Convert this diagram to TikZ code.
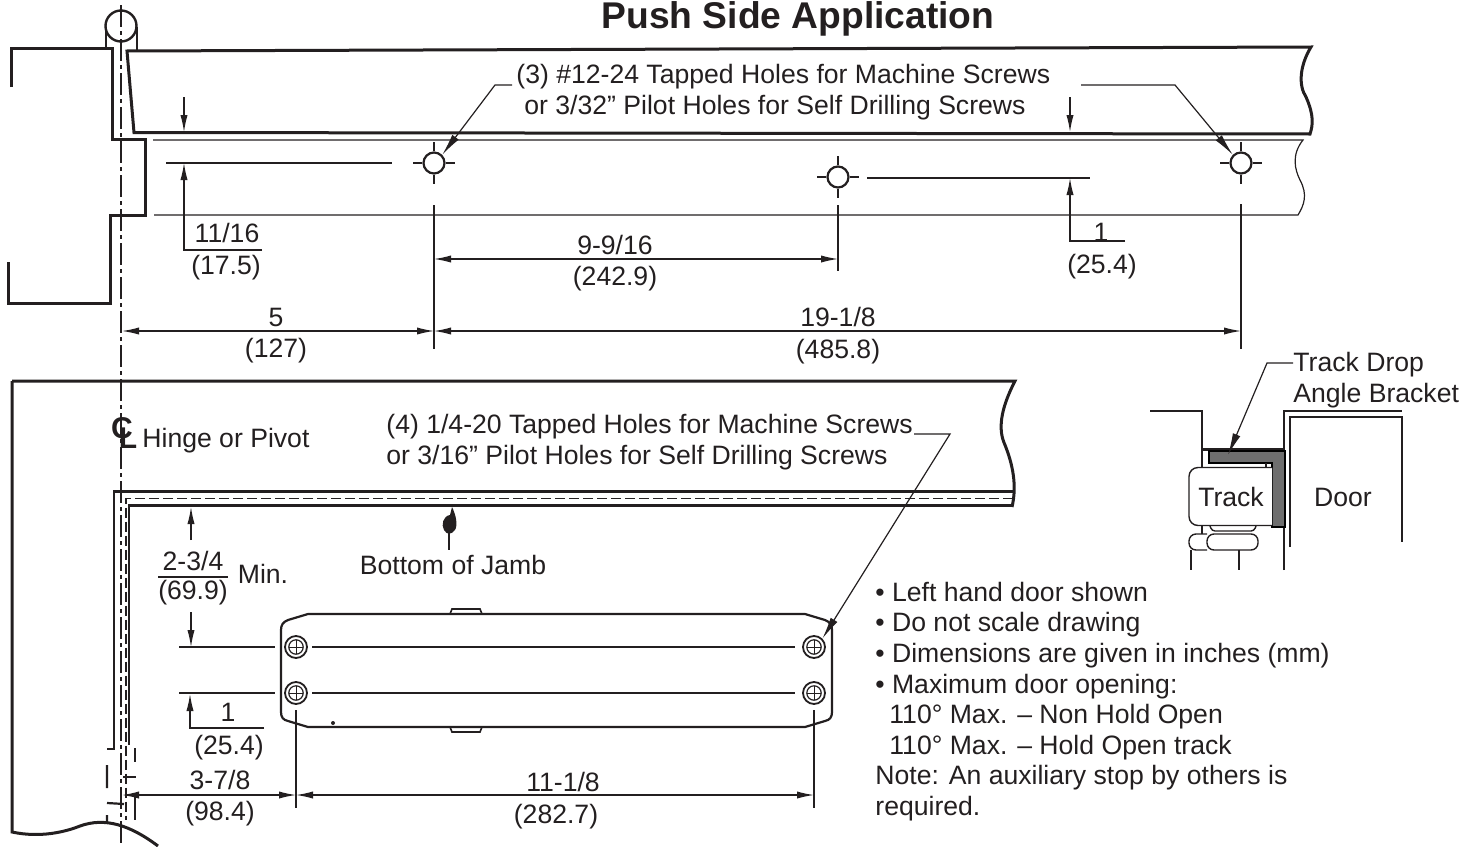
\documentclass[tikz,border=0pt]{standalone}
\usepackage{fontspec}
\setmainfont{Liberation Sans}
\usepackage{xcolor}
\usetikzlibrary{arrows.meta}
\definecolor{inkgray}{HTML}{231F20}
\definecolor{bracketgray}{HTML}{6E6E6E}
\tikzset{
	heavy/.style={line width=1.5pt, inkgray},
	medium/.style={line width=1.1pt, inkgray},
	thin line/.style={line width=0.6pt, inkgray},
	centerline/.style={thin line, dash pattern=on 11pt off 2pt on 2pt off 2pt},
	hidden/.style={thin line, dash pattern=on 5pt off 2pt},
	hiddenheavy/.style={medium},
	dimtip/.style={{Latex[length=8.5pt,width=3.6pt]}-{Latex[length=8.5pt,width=3.6pt]}, thin line},
	dimend/.style={-{Latex[length=8.5pt,width=3.6pt]}, thin line},
	leader/.style={-{Latex[length=11pt,width=4pt]}, thin line},
	lbl/.style={inner sep=0pt, text=inkgray, font=\fontsize{13.3}{15.3}\selectfont},
	lblleft/.style={lbl, anchor=west, align=left},
	holemark/.style={circle, draw=inkgray, line width=1.1pt, fill=white, minimum size=10.5pt, inner sep=0pt},
	screwmark/.style={circle, draw=inkgray, line width=0.9pt, fill=white, minimum size=11pt, inner sep=0pt},
}
\newcommand{\screwhead}[3]{
	\node[screwmark] (#1) at (#2,#3) {};
	\draw[line width=0.6pt, inkgray] (#2,#3) circle (3.6pt);
	\draw[line width=0.5pt, inkgray] (#2-7,#3) -- (#2+7,#3) (#2,#3-7) -- (#2,#3+7);
}
\newcommand{\holecross}[1]{
	\draw[thin line] (#1.north) -- ++(0,-9) (#1.south) -- ++(0,9) (#1.east) -- ++(9,0) (#1.west) -- ++(-9,0);
}
\begin{document}
\begin{tikzpicture}[x=0.5pt,y=-0.5pt]
	\useasboundingbox (0,0) rectangle (1461,846);
	\node[lbl, anchor=base, font=\fontsize{18.6}{22}\selectfont\bfseries] (title) at (798,28) {Push Side Application};

	% hinge and frame
	\draw[centerline] (121,5) -- (121,846);
	\draw[medium] (106,27) -- (106,48) (137,27) -- (137,50);
	\node[circle, draw=inkgray, line width=1.2pt, minimum size=15.5pt, inner sep=0pt] (hingepin) at (121,26) {};
	\draw[centerline] (121,5) -- (121,60);
	\draw[heavy] (11,87) -- (11,48) -- (112,48) -- (112,139) -- (145,139) -- (145,215) -- (110,215) -- (110,303) -- (8,303) -- (8,262);

	% door edge, top view
	\draw[heavy] (127,51) -- (1311,47) .. controls (1300,65) and (1298,85) .. (1306,97) .. controls (1314,115) and (1313,125) .. (1310,134) -- (134,132.5) -- cycle;
	\draw[thin line] (153,140) -- (1303,140) .. controls (1291,155) and (1295,170) .. (1300,180) .. controls (1308,195) and (1304,205) .. (1298,215) -- (154,215);
	\draw[thin line] (166,163) -- (392,163) (867,178) -- (1090,178);

	\node[holemark] (holea) at (434,163) {};
	\node[holemark] (holeb) at (838,177) {};
	\node[holemark] (holec) at (1241,163) {};
	\holecross{holea}
	\holecross{holeb}
	\holecross{holec}
	\draw[thin line] (434,205) -- (434,349) (838,205) -- (838,271) (1241,204) -- (1241,349);

	\coordinate (gapa) at (184,132);
	\coordinate (gapb) at (1070,132);
	\draw[dimend] (184,97) -- (gapa);
	\draw[dimend] (1070,97) -- (gapb);
	\draw[dimend] (262,250) -- (184,250) -- (184,163);
	\draw[dimend] (1125,241) -- (1070,241) -- (1070,178);

	\node[lbl] (elevena) at (227,233) {11/16};
	\node[lbl] (elevenb) at (226,268) {(17.5)};
	\node[lbl] (onea) at (1101,232) {1};
	\node[lbl] (oneb) at (1102,267) {(25.4)};
	\node[lbl] (ninea) at (615,245) {9-9/16};
	\node[lbl] (nineb) at (615,279) {(242.9)};
	\node[lbl] (fivea) at (276,317) {5};
	\node[lbl] (fiveb) at (276,351) {(127)};
	\node[lbl] (nineteena) at (838,317) {19-1/8};
	\node[lbl] (nineteenb) at (838,352) {(485.8)};

	\coordinate (cla) at (122,331);
	\coordinate (dima) at (434,331);
	\coordinate (dimb) at (1241,331);
	\draw[dimtip] (cla) -- (dima);
	\draw[dimtip] (dima) -- (dimb);
	\draw[dimtip] (434,259) -- (838,259);

	\node[lblleft] (screwnote) at (516,92) {(3) \#12-24 Tapped Holes for Machine Screws\\\hspace*{4pt}or 3/32” Pilot Holes for Self Drilling Screws};
	\draw[leader] (512,85) -- (495,85) -- (holea.north east);
	\draw[leader] (1081,85) -- (1175,85) -- (holec.north west);

	% door, bottom view
	\draw[heavy] (12,381) -- (1015,381) .. controls (1000,410) and (998,430) .. (1005,445) .. controls (1015,470) and (1016,490) .. (1012,507);
	\draw[heavy] (12,381) -- (12,832) .. controls (40,838) and (65,832) .. (80,826) .. controls (105,817) and (130,825) .. (158,846);
	\draw[medium] (1013,491.5) -- (114,491.5) -- (114,749) -- (107,749) (1012,505.5) -- (129,505.5) -- (129,745);
	\draw[hidden] (1013,498.5) -- (126,498.5) -- (126,820);
	\draw[hiddenheavy] (107,765) -- (107,788) (107,803) -- (124,804) (107,815) -- (107,822);
	\draw[hiddenheavy] (135,748) -- (135,762) (123,777) -- (136,777) (135,797) -- (135,820);

	\node[lbl, font=\fontsize{15}{15}\selectfont\bfseries] (clc) at (122,428) {C};
	\node[lbl, font=\fontsize{15}{15}\selectfont\bfseries] (cll) at (128,438) {L};
	\node[lblleft] (hingenote) at (142,441) {Hinge or Pivot};
	\node[lblleft] (tappednote) at (386,442) {(4) 1/4-20 Tapped Holes for Machine Screws\\or 3/16” Pilot Holes for Self Drilling Screws};

	% closer body
	\draw[medium] (288,620) -- (308,614) -- (805,614) -- (825,620) .. controls (830,622) and (832,625) .. (832,630) -- (832,712) .. controls (832,717) and (830,720) .. (825,721) -- (805,727) -- (308,727) -- (288,721) .. controls (283,720) and (281,717) .. (281,712) -- (281,630) .. controls (281,625) and (283,622) .. (288,620);
	\draw[thin line, line width=0.8pt] (450,614) -- (452,609) -- (480,609) -- (482,614) (450,727) -- (452,732) -- (480,732) -- (482,727);
	\fill[inkgray] (333,723) circle (1pt);
	\screwhead{screwa}{296}{647}
	\screwhead{screwb}{814}{647}
	\screwhead{screwc}{296}{693}
	\screwhead{screwd}{814}{693}
	\draw[thin line] (312,647) -- (795,647) (312,693) -- (795,693);
	\draw[thin line] (179,647) -- (275,647) (179,693) -- (275,693);
	\draw[thin line] (296,710) -- (296,808) (814,710) -- (814,808);

	\draw[leader] (914,434) -- (950,434) -- (screwb.north east);

	% hand pointing at jamb
	\fill[inkgray] (452,507) .. controls (456,515) and (458,525) .. (455,530) .. controls (451,535) and (447,535) .. (444,530) .. controls (441,525) and (443,516) .. (450,515) -- cycle;
	\node[lbl] (jambnote) at (453,565) {Bottom of Jamb};
	\draw[thin line] (449,533) -- (449,550);

	\draw[dimend] (191,540) -- (191,507);
	\draw[dimend] (191,612) -- (191,647);
	\draw[thin line] (158,577) -- (228,577);
	\node[lbl] (twoa) at (193,561) {2-3/4};
	\node[lbl] (twob) at (193,593) {(69.9)};
	\node[lbl] (minnote) at (263,574) {Min.};
	\draw[dimend] (264,728) -- (190,728) -- (190,694);
	\node[lbl] (closera) at (228,712) {1};
	\node[lbl] (closerb) at (229,748) {(25.4)};
	\node[lbl] (threea) at (220,780) {3-7/8};
	\node[lbl] (threeb) at (220,814) {(98.4)};
	\node[lbl] (lengtha) at (563,782) {11-1/8};
	\node[lbl] (lengthb) at (556,817) {(282.7)};
	\coordinate (cld) at (122,795);
	\coordinate (dimd) at (296,795);
	\coordinate (dime) at (814,795);
	\draw[dimtip] (cld) -- (dimd);
	\draw[dimtip] (dimd) -- (dime);

	% track section
	\draw[thin line, line width=0.7pt] (1150,411) -- (1202,411) -- (1202,467) (1202,526) -- (1202,534);
	\draw[thin line, line width=0.7pt] (1284,570) -- (1284,411) -- (1402,411);
	\draw[thin line, line width=0.7pt] (1290,547) -- (1290,417) -- (1402,417) -- (1402,542);
	\draw[medium] (1202,449.5) -- (1285,449.5);
	\draw[thin line, fill=bracketgray, draw=black, line width=0.8pt] (1209,451) -- (1285,451) -- (1285,527) -- (1272,527) -- (1272,463) -- (1209,463) -- cycle;
	\draw[thin line, line width=0.7pt, fill=white, rounded corners=4.5pt] (1272,467.5) -- (1189,467.5) -- (1189,525.5) -- (1272,525.5);
	\draw[thin line, line width=0.7pt] (1266,463) -- (1266,467.5);
	\draw[thin line, line width=0.7pt, rounded corners=1.5pt] (1210,526) -- (1212,531) -- (1254,531) -- (1256,526);
	\draw[thin line, line width=0.7pt, rounded corners=3.5pt] (1207,534) -- (1189,534) -- (1189,550) -- (1207,550);
	\draw[thin line, line width=0.7pt, rounded corners=3.5pt] (1207,534) rectangle (1258,550);
	\draw[thin line, line width=0.7pt] (1191,550) -- (1191,570) (1239,550) -- (1239,570);
	\node[lbl] (tracklabel) at (1231,497) {Track};
	\node[lbl] (doorlabel) at (1343,497) {Door};
	\node[lblleft] (bracketnote) at (1293,380) {Track Drop\\Angle Bracket};
	\draw[leader] (bracketnote.west |- 1290,363) -- (1267,363) -- (1228,455);

	\node[lblleft] (notes) at (875,701.5) {• Left hand door shown\\
		• Do not scale drawing\\
		• Dimensions are given in inches (mm)\\
		• Maximum door opening:\\
		\hspace*{7pt}110° Max. – Non Hold Open\\
		\hspace*{7pt}110° Max. – Hold Open track\\
		Note: An auxiliary stop by others is\\
		required.};
\end{tikzpicture}
\end{document}
